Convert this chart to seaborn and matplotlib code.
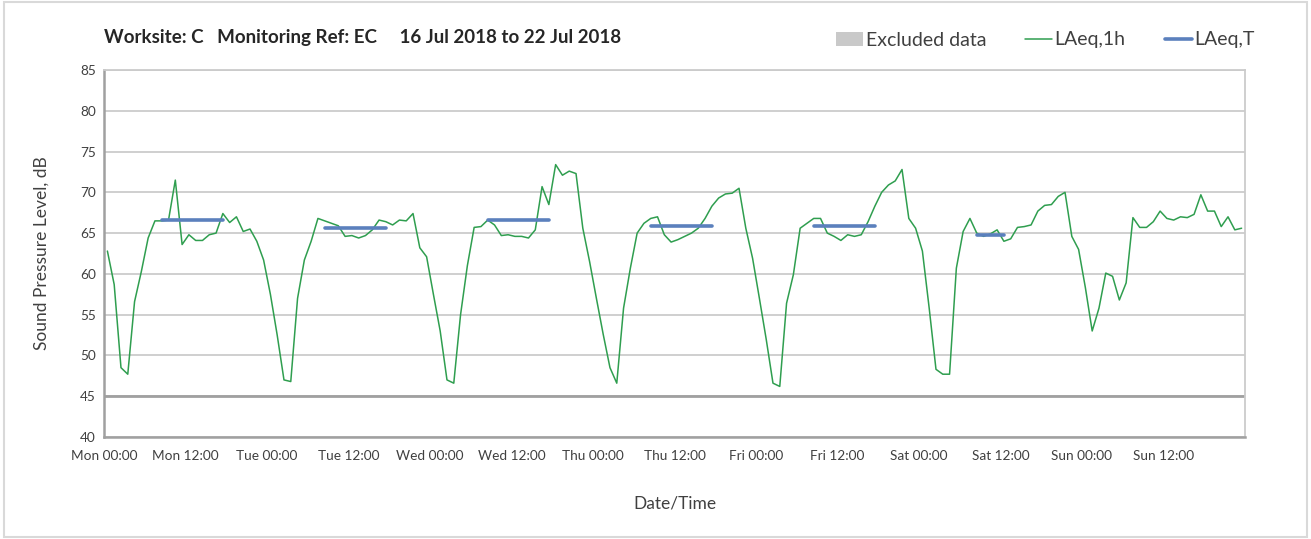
import numpy as np
import pandas as pd
import matplotlib
matplotlib.use("Agg")
import matplotlib.pyplot as plt
import seaborn as sns
from matplotlib.patches import Patch, Rectangle
from matplotlib.lines import Line2D

# ==================== style ====================
sns.set_theme(style="white")
plt.rcParams['font.family'] = ['Lato', 'DejaVu Sans']

GREEN = "#2f9e4f"
BLUE = "#5b80bd"
GREY_AXIS = "#a0a0a0"
GREY_GRID = "#cbcbcb"

# ==================== data ====================
DAYS = ["Mon", "Tue", "Wed", "Thu", "Fri", "Sat", "Sun"]
TICK_LABELS = [f"{d} {t}" for d in DAYS for t in ("00:00", "12:00")]

# LAeq,1h for hours 00..23 of each day (dB)
mon = [62.8, 58.7, 48.5, 47.7, 56.6, 60.3, 64.4, 66.5, 66.5, 66.6, 71.5, 63.6,
       64.8, 64.1, 64.1, 64.8, 65.0, 67.4, 66.3, 67.0, 65.2, 65.5, 64.0, 61.7]
tue = [57.5, 52.5, 47.0, 46.8, 57.0, 61.7, 64.0, 66.8, 66.5, 66.2, 65.9, 64.6,
       64.7, 64.4, 64.7, 65.4, 66.6, 66.4, 66.0, 66.6, 66.5, 67.4, 63.2, 62.1]
wed = [57.5, 53.0, 47.0, 46.6, 55.0, 61.0, 65.7, 65.8, 66.6, 66.0, 64.7, 64.8,
       64.6, 64.6, 64.4, 65.4, 70.7, 68.5, 73.4, 72.1, 72.6, 72.3, 65.6, 61.5]
thu = [57.0, 52.6, 48.5, 46.6, 55.8, 60.7, 65.0, 66.2, 66.8, 67.0, 64.8, 63.9,
       64.2, 64.6, 65.0, 65.6, 66.8, 68.3, 69.3, 69.8, 69.9, 70.5, 65.6, 61.9]
fri = [57.0, 52.0, 46.6, 46.2, 56.4, 59.9, 65.6, 66.2, 66.8, 66.8, 65.0, 64.6,
       64.1, 64.8, 64.6, 64.8, 66.4, 68.3, 70.0, 70.9, 71.4, 72.8, 66.8, 65.6]
sat = [62.8, 55.8, 48.3, 47.7, 47.7, 60.7, 65.2, 66.8, 65.0, 64.6, 64.9, 65.4,
       64.0, 64.3, 65.7, 65.8, 66.0, 67.7, 68.4, 68.5, 69.5, 70.0, 64.6, 63.0]
sun = [58.3, 53.0, 55.8, 60.1, 59.7, 56.8, 58.9, 66.9, 65.7, 65.7, 66.4, 67.7,
       66.8, 66.6, 67.0, 66.9, 67.3, 69.7, 67.7, 67.7, 65.8, 67.0, 65.4, 65.6]

# LAeq,T per assessment period (first / last hourly index within the day)
laeq_t = [66.6, 65.6, 66.6, 65.9, 65.9, 64.8]
t_first = [8, 8, 8, 8, 8, 8]
t_last = [17, 17, 17, 17, 17, 12]

# ==================== tables ====================
hourly = pd.DataFrame({
    "hour": np.arange(7 * 24) + 0.5,
    "LAeq,1h": mon + tue + wed + thu + fri + sat + sun,
})

rows = []
for d, (v, a, b) in enumerate(zip(laeq_t, t_first, t_last)):
    rows.append({"period": d, "hour": d * 24 + a + 0.5, "LAeq,T": v})
    rows.append({"period": d, "hour": d * 24 + b + 0.5, "LAeq,T": v})
periods = pd.DataFrame(rows)

# ==================== figure ====================
fig = plt.figure(figsize=(13.11, 5.39), dpi=100)
ax = fig.add_axes([104 / 1311, 1 - 437 / 539, 1141 / 1311, 367 / 539])

sns.lineplot(data=hourly, x="hour", y="LAeq,1h", color=GREEN, linewidth=1.1, ax=ax)
sns.lineplot(data=periods, x="hour", y="LAeq,T", units="period", estimator=None,
             color=BLUE, linewidth=2.6, ax=ax)

ax.set_xlim(0, 168)
ax.set_ylim(40, 85)
ax.set_yticks(range(40, 90, 5))
ax.set_xticks(range(0, 169, 12))
ax.set_xticklabels(TICK_LABELS + [""])
ax.set_xticks(range(0, 169, 24), minor=True)

ax.grid(False)
ax.yaxis.grid(True, which="major", color=GREY_GRID, linewidth=1.3)
ax.xaxis.grid(True, which="minor", color="#dcdcdc", linewidth=1.1)
ax.axhline(45, color=GREY_AXIS, linewidth=2)

for s in ["left", "bottom"]:
    ax.spines[s].set_color(GREY_AXIS)
    ax.spines[s].set_linewidth(1.8)
for s in ["top", "right"]:
    ax.spines[s].set_color(GREY_GRID)
    ax.spines[s].set_linewidth(1.3)

ax.tick_params(axis="both", which="major", direction="inout", length=5, width=1,
               color=GREY_AXIS, labelcolor="#404040", labelsize=9.8)
ax.tick_params(axis="x", which="major", pad=7)
ax.tick_params(axis="x", which="minor", length=0)

ax.set_ylabel("Sound Pressure Level, dB", fontsize=12.5, color="#404040", labelpad=22)
ax.set_xlabel("Date/Time", fontsize=12.5, color="#404040", labelpad=24)

fig.text(104 / 1311, 1 - 37 / 539,
         "Worksite: C   Monitoring Ref: EC     16 Jul 2018 to 22 Jul 2018",
         fontsize=13.5, fontweight="bold", color="#262626", va="center", ha="left")

handles = [
    Patch(facecolor="#c9c9c9", edgecolor="none", label="Excluded data"),
    Line2D([], [], color=GREEN, linewidth=1.1, label="LAeq,1h"),
    Line2D([], [], color=BLUE, linewidth=2.6, label="LAeq,T"),
]
leg = fig.legend(handles=handles, loc="center right",
                 bbox_to_anchor=(1272 / 1311, 1 - 40 / 539), ncol=3, frameon=False,
                 fontsize=14, handlelength=1.4, handleheight=0.7,
                 handletextpad=0.12, columnspacing=2.0)
for t in leg.get_texts():
    t.set_color("#404040")

fig.add_artist(Rectangle((4 / 1311, 2 / 539), 1303 / 1311, 535 / 539,
                         transform=fig.transFigure, fill=False,
                         edgecolor="#d9d9d9", linewidth=1.5))

fig.savefig("out.png", dpi=100)
